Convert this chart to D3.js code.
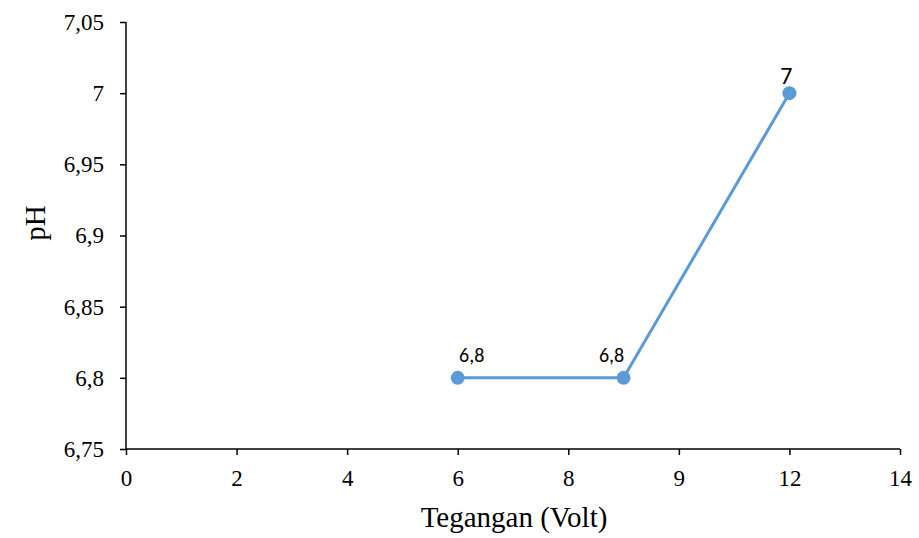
<!DOCTYPE html>
<html>
<head>
<meta charset="utf-8">
<script src="https://cdn.jsdelivr.net/npm/d3@7"></script>
<style>
  body { margin: 0; background: #fff; }
  svg { display: block; }
</style>
</head>
<body>
<div class="chart"></div>
<script>
// data
const voltValues = [6, 9, 12];
const phValues = [6.8, 6.8, 7];
const pointLabels = ['6,8', '6,8', '7'];
const xTickValues = [0, 2, 4, 6, 8, 10, 12, 14];
const xTickLabels = ['0', '2', '4', '6', '8', '9', '12', '14'];
const yTickValues = [6.75, 6.8, 6.85, 6.9, 6.95, 7, 7.05];
const yTickLabels = ['6,75', '6,8', '6,85', '6,9', '6,95', '7', '7,05'];

const width = 919, height = 538;
const margin = {top: 22, right: 19, bottom: 89, left: 126};
const color = '#5b9bd5';
const serif = '"Liberation Serif", "Times New Roman", serif';

const svg = d3.select('.chart')
    .append('svg')
    .attr('width', width)
    .attr('height', height);

const x = d3.scaleLinear().domain([0, 14]).range([margin.left, width - margin.right]);
const y = d3.scaleLinear().domain([6.75, 7.05]).range([height - margin.bottom, margin.top]);

// 坐标轴
const xAxis = svg.append('g')
    .attr('transform', `translate(0,${height - margin.bottom})`)
    .call(d3.axisBottom(x)
        .tickValues(xTickValues)
        .tickFormat((d, i) => xTickLabels[i])
        .tickSize(6)
        .tickPadding(15));

const yAxis = svg.append('g')
    .attr('transform', `translate(${margin.left},0)`)
    .call(d3.axisLeft(y)
        .tickValues(yTickValues)
        .tickFormat((d, i) => yTickLabels[i])
        .tickSize(6)
        .tickPadding(16));

[xAxis, yAxis].forEach(ax => {
    ax.attr('font-family', serif);
    ax.select('.domain').attr('stroke', '#000').attr('stroke-width', 1.5);
    ax.selectAll('.tick line').attr('stroke', '#000').attr('stroke-width', 1.5);
    ax.selectAll('.tick text')
        .attr('fill', '#000')
        .style('font-family', serif)
        .style('font-size', '23px');
});
xAxis.select('.domain').attr('d', `M${x(0)},0H${x(14)}`);
yAxis.select('.domain').attr('d', `M0,${y(6.75)}V${y(7.05)}`);

// 轴标题
svg.append('text')
    .attr('x', 514)
    .attr('y', 527)
    .attr('text-anchor', 'middle')
    .style('font-family', serif)
    .style('font-size', '29px')
    .text('Tegangan (Volt)');

svg.append('text')
    .attr('transform', `translate(45,223) rotate(-90)`)
    .attr('text-anchor', 'middle')
    .style('font-family', serif)
    .style('font-size', '29px')
    .text('pH');

// 折线
const points = voltValues.map((v, i) => ({v, ph: phValues[i], label: pointLabels[i]}));
svg.append('path')
    .datum(points)
    .attr('fill', 'none')
    .attr('stroke', color)
    .attr('stroke-width', 3)
    .attr('d', d3.line().x(d => x(d.v)).y(d => y(d.ph)));

svg.selectAll('circle.pt')
    .data(points)
    .enter()
    .append('circle')
    .attr('class', 'pt')
    .attr('cx', d => x(d.v))
    .attr('cy', d => y(d.ph))
    .attr('r', 7)
    .attr('fill', color);

// 数据标签
const labelOffsets = [{dx: 14, dy: -16, size: 20}, {dx: -12, dy: -16, size: 20}, {dx: -3, dy: -9, size: 24}];
svg.selectAll('text.lbl')
    .data(points)
    .enter()
    .append('text')
    .attr('class', 'lbl')
    .attr('x', (d, i) => x(d.v) + labelOffsets[i].dx)
    .attr('y', (d, i) => y(d.ph) + labelOffsets[i].dy)
    .attr('text-anchor', 'middle')
    .style('font-family', 'Carlito, "Open Sans", "Liberation Sans", sans-serif')
    .style('font-size', (d, i) => `${labelOffsets[i].size}px`)
    .text(d => d.label);
</script>
</body>
</html>
